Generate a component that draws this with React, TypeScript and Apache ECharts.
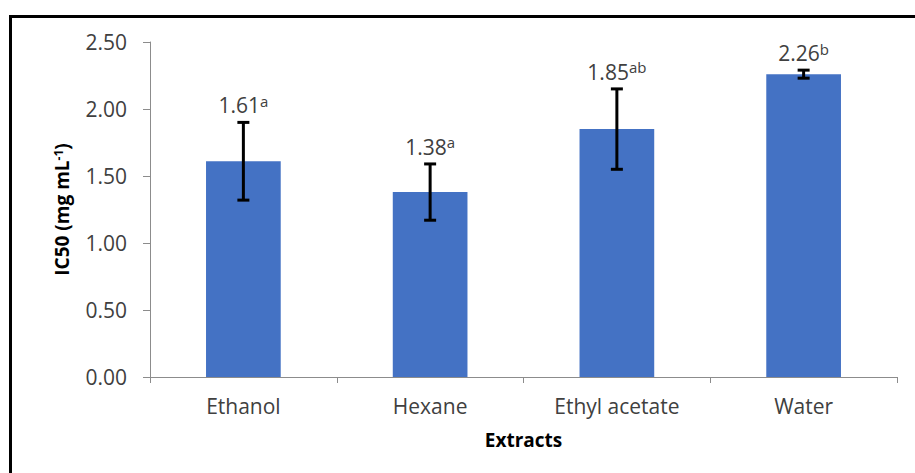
import React, { useEffect, useRef } from "react";
import * as echarts from "echarts";

const categories = ["Ethanol", "Hexane", "Ethyl acetate", "Water"];
const means = [1.61, 1.38, 1.85, 2.26];
const errors = [0.29, 0.21, 0.3, 0.03];
const letters = ["a", "a", "ab", "b"];
const yTicks = [0, 0.5, 1.0, 1.5, 2.0, 2.5];

const FONT = "'Open Sans', 'Noto Sans', sans-serif";

export default function App() {
  const ref = useRef<HTMLDivElement>(null);
  useEffect(() => {
    if (!ref.current) return;
    const chart = echarts.init(ref.current, null, { renderer: "svg" });
    const errData = means.map((m, i) => [i, m, errors[i]]);
    chart.setOption({
      animation: false,
      backgroundColor: "#fff",
      graphic: [
        {
          type: "rect",
          silent: true,
          z: -10,
          shape: { x: 10.5, y: 16.5, width: 1000, height: 1000 },
          style: { fill: "none", stroke: "#000", lineWidth: 3 },
        },
      ],
      grid: { left: 150, right: 18, top: 42, bottom: 96 },
      xAxis: {
        type: "category",
        data: categories,
        name: "Extracts",
        nameLocation: "middle",
        nameGap: 53,
        nameTextStyle: { fontFamily: FONT, fontWeight: "bold", fontSize: 19, color: "#000" },
        axisLine: { lineStyle: { color: "#8c8c8c", width: 1 } },
        axisTick: { show: true, length: 6, lineStyle: { color: "#8c8c8c" } },
        axisLabel: { fontFamily: FONT, fontSize: 21, color: "#404040", margin: 18 },
      },
      yAxis: {
        type: "value",
        min: yTicks[0],
        max: yTicks[yTicks.length - 1],
        interval: 0.5,
        name: "IC50 (mg mL{s|-1})",
        nameLocation: "middle",
        nameGap: 79,
        nameRotate: 90,
        nameTextStyle: {
          fontFamily: FONT,
          fontWeight: "bold",
          fontSize: 19,
          color: "#000",
          rich: {
            s: { fontFamily: FONT, fontWeight: "bold", fontSize: 12, color: "#000", verticalAlign: "top" },
          },
        },
        splitLine: { show: false },
        axisLine: { show: true, lineStyle: { color: "#8c8c8c", width: 1 } },
        axisTick: { show: true, length: 7, lineStyle: { color: "#8c8c8c" } },
        axisLabel: {
          fontFamily: FONT,
          fontSize: 21,
          color: "#404040",
          margin: 23,
          formatter: (v: number) => v.toFixed(2),
        },
      },
      series: [
        {
          type: "bar",
          data: means,
          barWidth: "40%",
          itemStyle: { color: "#4472C4" },
          z: 2,
        },
        {
          type: "custom",
          z: 5,
          data: errData,
          renderItem: (params: any, api: any) => {
            const i = api.value(0);
            const v = api.value(1);
            const e = api.value(2);
            const top = api.coord([i, v + e]);
            const bot = api.coord([i, v - e]);
            const x = top[0];
            const cap = 6;
            const ls = { stroke: "#000", lineWidth: 3 };
            return {
              type: "group",
              children: [
                { type: "line", shape: { x1: x, y1: top[1], x2: x, y2: bot[1] }, style: ls },
                { type: "line", shape: { x1: x - cap, y1: top[1], x2: x + cap, y2: top[1] }, style: ls },
                { type: "line", shape: { x1: x - cap, y1: bot[1], x2: x + cap, y2: bot[1] }, style: ls },
                {
                  type: "text",
                  x: x,
                  y: top[1] - 5,
                  style: {
                    text: `{v|${means[i].toFixed(2)}}{s|${letters[i]}}`,
                    align: "center",
                    verticalAlign: "bottom",
                    rich: {
                      v: { fontFamily: FONT, fontSize: 21, fill: "#404040", lineHeight: 24 },
                      s: { fontFamily: FONT, fontSize: 15, fill: "#404040", verticalAlign: "top", lineHeight: 24 },
                    },
                  },
                },
              ],
            };
          },
        },
      ],
    });
    return () => chart.dispose();
  }, []);
  return (
    <div
      ref={ref}
      style={{ position: "fixed", left: 0, top: 0, width: 915, height: 473, background: "#fff" }}
    />
  );
}
